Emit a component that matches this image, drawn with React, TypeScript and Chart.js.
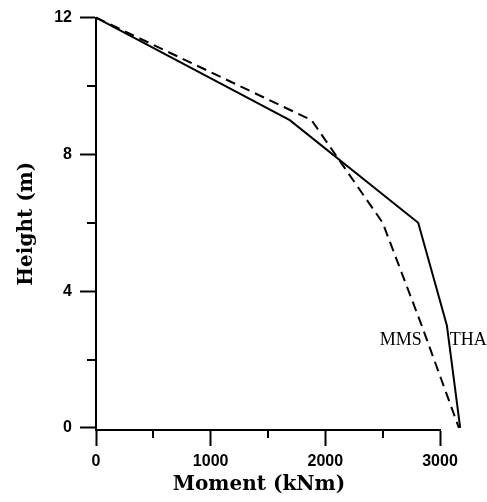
import React, { useEffect, useRef } from "react";
import { Chart, registerables } from "chart.js";

Chart.register(...registerables);

// Data
const HEIGHTS = [12, 9, 6, 3, 0];
const THA_MOMENT = [0, 1690, 2810, 3060, 3176];
const MMS_MOMENT = [0, 1880, 2500, 2840, 3165];

const X_TICKS = [0, 500, 1000, 1500, 2000, 2500, 3000];
const X_MAJOR = [0, 1000, 2000, 3000];
const Y_TICKS = [0, 2, 4, 6, 8, 10, 12];
const Y_MAJOR = [0, 4, 8, 12];

const X_TITLE = "Moment (kNm)";
const Y_TITLE = "Height (m)";

const CURVE_LABELS = [
  { text: "MMS", x: 2840, y: 2.43, align: "right" },
  { text: "THA", x: 3085, y: 2.43, align: "left" },
];

const TICK_FONT = { family: "'Liberation Sans', Arial, sans-serif", size: 16, weight: "bold" as const };
const TITLE_FONT = { family: "'DejaVu Serif', serif", size: 20, weight: "bold" as const };

const extras = {
  id: "extras",
  afterDraw(chart: any) {
    const ctx = chart.ctx;
    const xs = chart.scales.x;
    const ys = chart.scales.y;
    const area = chart.chartArea;
    ctx.save();
    ctx.strokeStyle = "#000";
    ctx.lineWidth = 2;
    ctx.beginPath();
    X_TICKS.filter((v) => !X_MAJOR.includes(v)).forEach((v) => {
      const px = Math.round(xs.getPixelForValue(v));
      ctx.moveTo(px, area.bottom);
      ctx.lineTo(px, area.bottom + 8);
    });
    Y_TICKS.filter((v) => !Y_MAJOR.includes(v)).forEach((v) => {
      const py = Math.round(ys.getPixelForValue(v));
      ctx.moveTo(area.left, py);
      ctx.lineTo(area.left - 9, py);
    });
    ctx.stroke();
    // x axis title
    ctx.fillStyle = "#000";
    ctx.font = "bold 20px 'DejaVu Serif', serif";
    ctx.textAlign = "center";
    ctx.textBaseline = "middle";
    ctx.fillText(X_TITLE, (area.left + area.right) / 2 - 9, 485);
    // curve labels
    ctx.font = "18px 'Liberation Serif', 'Times New Roman', serif";
    ctx.textBaseline = "alphabetic";
    CURVE_LABELS.forEach((l) => {
      ctx.textAlign = l.align as CanvasTextAlign;
      ctx.fillText(l.text, xs.getPixelForValue(l.x), ys.getPixelForValue(l.y));
    });
    ctx.restore();
  },
};

export default function App() {
  const ref = useRef<HTMLCanvasElement>(null);
  useEffect(() => {
    if (!ref.current) return;
    const chart = new Chart(ref.current, {
      type: "line",
      data: {
        datasets: [
          {
            label: "THA",
            data: HEIGHTS.map((h, i) => ({ x: THA_MOMENT[i], y: h })),
            borderColor: "#000",
            borderWidth: 2,
            pointRadius: 0,
            fill: false,
            tension: 0,
            clip: false as any,
          },
          {
            label: "MMS",
            data: HEIGHTS.map((h, i) => ({ x: MMS_MOMENT[i], y: h })),
            borderColor: "#000",
            borderWidth: 2,
            borderDash: [10, 6],
            pointRadius: 0,
            fill: false,
            tension: 0,
            clip: false as any,
          },
        ],
      },
      options: {
        indexAxis: "y",
        animation: false,
        responsive: false,
        devicePixelRatio: 1,
        layout: { padding: { left: 0, top: 15.7, right: 47, bottom: 0 } },
        plugins: { legend: { display: false }, tooltip: { enabled: false } },
        scales: {
          x: {
            type: "linear",
            min: 0,
            max: 3000,
            afterBuildTicks: (s: any) => {
              s.ticks = X_TICKS.map((v) => ({ value: v }));
            },
            afterFit: (s: any) => {
              s.height = 72;
            },
            border: { display: true, color: "#000", width: 2 },
            grid: {
              display: true,
              drawOnChartArea: false,
              drawTicks: true,
              tickLength: 16,
              tickWidth: 2,
              tickColor: (c: any) => (c.tick && X_MAJOR.includes(c.tick.value) ? "#000" : "rgba(0,0,0,0)"),
            },
            ticks: {
              autoSkip: false,
              maxRotation: 0,
              padding: 6,
              color: "#000",
              font: TICK_FONT,
              callback: (v: any) => (X_MAJOR.includes(Number(v)) ? String(v) : ""),
            },
            title: { display: false, text: X_TITLE },
          },
          y: {
            type: "linear",
            min: -0.06,
            max: 12,
            afterBuildTicks: (s: any) => {
              s.ticks = Y_TICKS.map((v) => ({ value: v }));
            },
            afterFit: (s: any) => {
              s.width = 96;
            },
            border: { display: true, color: "#000", width: 2 },
            grid: {
              display: true,
              drawOnChartArea: false,
              drawTicks: true,
              tickLength: 16,
              tickWidth: 2,
              tickColor: (c: any) => (c.tick && Y_MAJOR.includes(c.tick.value) ? "#000" : "rgba(0,0,0,0)"),
            },
            ticks: {
              autoSkip: false,
              padding: 8,
              color: "#000",
              font: TICK_FONT,
              callback: (v: any) => (Y_MAJOR.includes(Number(v)) ? String(v) : ""),
            },
            title: {
              display: true,
              text: Y_TITLE,
              color: "#000",
              font: TITLE_FONT,
              padding: { top: 15, bottom: 0 },
            },
          },
        },
      },
      plugins: [extras],
    });
    return () => chart.destroy();
  }, []);
  return (
    <div style={{ position: "absolute", left: 0, top: 0, width: 487, height: 502 }}>
      <canvas ref={ref} width={487} height={502} style={{ width: 487, height: 502 }} />
    </div>
  );
}
